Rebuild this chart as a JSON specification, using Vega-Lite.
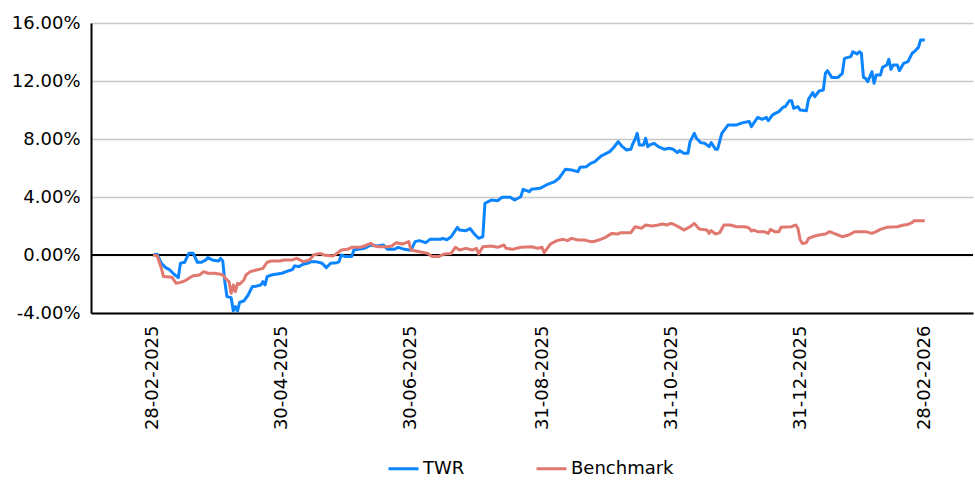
{
"$schema": "https://vega.github.io/schema/vega-lite/v6.json",
"width": 882, "height": 290,
"autosize": {"type": "none"},
"padding": {"left": 91, "top": 23, "right": 2, "bottom": 169},
"background": "white",
"config": {"view": {"stroke": null}, "font": "DejaVu Sans"},
"data": {"values": [
{"s":"TWR","d":"2025-02-28","v":0},
{"s":"TWR","d":"2025-03-02","v":0.0005},
{"s":"TWR","d":"2025-03-04","v":-0.0057},
{"s":"TWR","d":"2025-03-06","v":-0.0087},
{"s":"TWR","d":"2025-03-08","v":-0.0103},
{"s":"TWR","d":"2025-03-10","v":-0.0133},
{"s":"TWR","d":"2025-03-12","v":-0.0156},
{"s":"TWR","d":"2025-03-13","v":-0.0057},
{"s":"TWR","d":"2025-03-15","v":-0.0050},
{"s":"TWR","d":"2025-03-17","v":0.0012},
{"s":"TWR","d":"2025-03-19","v":0.0012},
{"s":"TWR","d":"2025-03-21","v":-0.0050},
{"s":"TWR","d":"2025-03-23","v":-0.0050},
{"s":"TWR","d":"2025-03-25","v":-0.0034},
{"s":"TWR","d":"2025-03-26","v":-0.0018},
{"s":"TWR","d":"2025-03-28","v":-0.0034},
{"s":"TWR","d":"2025-03-31","v":-0.0041},
{"s":"TWR","d":"2025-04-01","v":-0.0023},
{"s":"TWR","d":"2025-04-02","v":-0.0041},
{"s":"TWR","d":"2025-04-03","v":-0.0184},
{"s":"TWR","d":"2025-04-04","v":-0.0287},
{"s":"TWR","d":"2025-04-06","v":-0.0294},
{"s":"TWR","d":"2025-04-07","v":-0.0386},
{"s":"TWR","d":"2025-04-08","v":-0.0356},
{"s":"TWR","d":"2025-04-09","v":-0.0386},
{"s":"TWR","d":"2025-04-10","v":-0.0326},
{"s":"TWR","d":"2025-04-12","v":-0.0317},
{"s":"TWR","d":"2025-04-14","v":-0.0276},
{"s":"TWR","d":"2025-04-16","v":-0.0218},
{"s":"TWR","d":"2025-04-17","v":-0.0218},
{"s":"TWR","d":"2025-04-20","v":-0.0207},
{"s":"TWR","d":"2025-04-21","v":-0.0184},
{"s":"TWR","d":"2025-04-22","v":-0.0207},
{"s":"TWR","d":"2025-04-23","v":-0.0149},
{"s":"TWR","d":"2025-04-25","v":-0.0138},
{"s":"TWR","d":"2025-04-27","v":-0.0133},
{"s":"TWR","d":"2025-04-30","v":-0.0126},
{"s":"TWR","d":"2025-05-02","v":-0.0115},
{"s":"TWR","d":"2025-05-05","v":-0.0100},
{"s":"TWR","d":"2025-05-06","v":-0.0075},
{"s":"TWR","d":"2025-05-08","v":-0.0080},
{"s":"TWR","d":"2025-05-10","v":-0.0064},
{"s":"TWR","d":"2025-05-12","v":-0.0057},
{"s":"TWR","d":"2025-05-14","v":-0.0046},
{"s":"TWR","d":"2025-05-16","v":-0.0046},
{"s":"TWR","d":"2025-05-19","v":-0.0057},
{"s":"TWR","d":"2025-05-21","v":-0.0087},
{"s":"TWR","d":"2025-05-23","v":-0.0057},
{"s":"TWR","d":"2025-05-26","v":-0.0053},
{"s":"TWR","d":"2025-05-27","v":-0.0046},
{"s":"TWR","d":"2025-05-28","v":0.0000},
{"s":"TWR","d":"2025-05-30","v":-0.0011},
{"s":"TWR","d":"2025-06-02","v":-0.0011},
{"s":"TWR","d":"2025-06-03","v":0.0034},
{"s":"TWR","d":"2025-06-05","v":0.0039},
{"s":"TWR","d":"2025-06-08","v":0.0046},
{"s":"TWR","d":"2025-06-11","v":0.0069},
{"s":"TWR","d":"2025-06-14","v":0.0062},
{"s":"TWR","d":"2025-06-17","v":0.0069},
{"s":"TWR","d":"2025-06-19","v":0.0039},
{"s":"TWR","d":"2025-06-22","v":0.0039},
{"s":"TWR","d":"2025-06-24","v":0.0053},
{"s":"TWR","d":"2025-06-27","v":0.0039},
{"s":"TWR","d":"2025-06-29","v":0.0034},
{"s":"TWR","d":"2025-06-30","v":0.0034},
{"s":"TWR","d":"2025-07-02","v":0.0092},
{"s":"TWR","d":"2025-07-04","v":0.0099},
{"s":"TWR","d":"2025-07-07","v":0.0085},
{"s":"TWR","d":"2025-07-09","v":0.0108},
{"s":"TWR","d":"2025-07-14","v":0.0108},
{"s":"TWR","d":"2025-07-15","v":0.0115},
{"s":"TWR","d":"2025-07-17","v":0.0105},
{"s":"TWR","d":"2025-07-19","v":0.0126},
{"s":"TWR","d":"2025-07-22","v":0.0191},
{"s":"TWR","d":"2025-07-23","v":0.0172},
{"s":"TWR","d":"2025-07-26","v":0.0168},
{"s":"TWR","d":"2025-07-28","v":0.0182},
{"s":"TWR","d":"2025-07-30","v":0.0145},
{"s":"TWR","d":"2025-08-01","v":0.0115},
{"s":"TWR","d":"2025-08-03","v":0.0126},
{"s":"TWR","d":"2025-08-04","v":0.0356},
{"s":"TWR","d":"2025-08-07","v":0.0379},
{"s":"TWR","d":"2025-08-10","v":0.0374},
{"s":"TWR","d":"2025-08-12","v":0.0398},
{"s":"TWR","d":"2025-08-16","v":0.0398},
{"s":"TWR","d":"2025-08-18","v":0.0379},
{"s":"TWR","d":"2025-08-21","v":0.0402},
{"s":"TWR","d":"2025-08-22","v":0.0453},
{"s":"TWR","d":"2025-08-25","v":0.0437},
{"s":"TWR","d":"2025-08-26","v":0.0453},
{"s":"TWR","d":"2025-08-30","v":0.0460},
{"s":"TWR","d":"2025-09-02","v":0.0483},
{"s":"TWR","d":"2025-09-06","v":0.0506},
{"s":"TWR","d":"2025-09-08","v":0.0529},
{"s":"TWR","d":"2025-09-11","v":0.0591},
{"s":"TWR","d":"2025-09-14","v":0.0586},
{"s":"TWR","d":"2025-09-17","v":0.0575},
{"s":"TWR","d":"2025-09-18","v":0.0605},
{"s":"TWR","d":"2025-09-21","v":0.0609},
{"s":"TWR","d":"2025-09-23","v":0.0632},
{"s":"TWR","d":"2025-09-25","v":0.0644},
{"s":"TWR","d":"2025-09-28","v":0.0683},
{"s":"TWR","d":"2025-09-29","v":0.0690},
{"s":"TWR","d":"2025-10-02","v":0.0713},
{"s":"TWR","d":"2025-10-04","v":0.0743},
{"s":"TWR","d":"2025-10-06","v":0.0782},
{"s":"TWR","d":"2025-10-08","v":0.0747},
{"s":"TWR","d":"2025-10-10","v":0.0724},
{"s":"TWR","d":"2025-10-12","v":0.0729},
{"s":"TWR","d":"2025-10-13","v":0.0770},
{"s":"TWR","d":"2025-10-14","v":0.0798},
{"s":"TWR","d":"2025-10-15","v":0.0839},
{"s":"TWR","d":"2025-10-16","v":0.0759},
{"s":"TWR","d":"2025-10-18","v":0.0759},
{"s":"TWR","d":"2025-10-19","v":0.0805},
{"s":"TWR","d":"2025-10-20","v":0.0747},
{"s":"TWR","d":"2025-10-21","v":0.0759},
{"s":"TWR","d":"2025-10-23","v":0.0770},
{"s":"TWR","d":"2025-10-25","v":0.0747},
{"s":"TWR","d":"2025-10-28","v":0.0729},
{"s":"TWR","d":"2025-10-30","v":0.0736},
{"s":"TWR","d":"2025-11-01","v":0.0729},
{"s":"TWR","d":"2025-11-03","v":0.0706},
{"s":"TWR","d":"2025-11-04","v":0.0720},
{"s":"TWR","d":"2025-11-06","v":0.0701},
{"s":"TWR","d":"2025-11-08","v":0.0701},
{"s":"TWR","d":"2025-11-09","v":0.0782},
{"s":"TWR","d":"2025-11-11","v":0.0839},
{"s":"TWR","d":"2025-11-12","v":0.0805},
{"s":"TWR","d":"2025-11-14","v":0.0775},
{"s":"TWR","d":"2025-11-16","v":0.0770},
{"s":"TWR","d":"2025-11-18","v":0.0747},
{"s":"TWR","d":"2025-11-19","v":0.0775},
{"s":"TWR","d":"2025-11-21","v":0.0729},
{"s":"TWR","d":"2025-11-22","v":0.0729},
{"s":"TWR","d":"2025-11-24","v":0.0839},
{"s":"TWR","d":"2025-11-27","v":0.0897},
{"s":"TWR","d":"2025-12-01","v":0.0897},
{"s":"TWR","d":"2025-12-04","v":0.0913},
{"s":"TWR","d":"2025-12-07","v":0.0920},
{"s":"TWR","d":"2025-12-08","v":0.0885},
{"s":"TWR","d":"2025-12-09","v":0.0908},
{"s":"TWR","d":"2025-12-11","v":0.0949},
{"s":"TWR","d":"2025-12-13","v":0.0936},
{"s":"TWR","d":"2025-12-15","v":0.0949},
{"s":"TWR","d":"2025-12-16","v":0.0926},
{"s":"TWR","d":"2025-12-18","v":0.0966},
{"s":"TWR","d":"2025-12-20","v":0.0982},
{"s":"TWR","d":"2025-12-21","v":0.0989},
{"s":"TWR","d":"2025-12-23","v":0.1019},
{"s":"TWR","d":"2025-12-24","v":0.1023},
{"s":"TWR","d":"2025-12-26","v":0.1064},
{"s":"TWR","d":"2025-12-27","v":0.1064},
{"s":"TWR","d":"2025-12-28","v":0.1011},
{"s":"TWR","d":"2025-12-30","v":0.1023},
{"s":"TWR","d":"2025-12-31","v":0.1000},
{"s":"TWR","d":"2026-01-03","v":0.0995},
{"s":"TWR","d":"2026-01-04","v":0.1074},
{"s":"TWR","d":"2026-01-06","v":0.1120},
{"s":"TWR","d":"2026-01-07","v":0.1092},
{"s":"TWR","d":"2026-01-09","v":0.1131},
{"s":"TWR","d":"2026-01-11","v":0.1138},
{"s":"TWR","d":"2026-01-12","v":0.1253},
{"s":"TWR","d":"2026-01-13","v":0.1271},
{"s":"TWR","d":"2026-01-15","v":0.1225},
{"s":"TWR","d":"2026-01-18","v":0.1225},
{"s":"TWR","d":"2026-01-20","v":0.1253},
{"s":"TWR","d":"2026-01-21","v":0.1356},
{"s":"TWR","d":"2026-01-24","v":0.1368},
{"s":"TWR","d":"2026-01-25","v":0.1402},
{"s":"TWR","d":"2026-01-27","v":0.1386},
{"s":"TWR","d":"2026-01-28","v":0.1402},
{"s":"TWR","d":"2026-01-29","v":0.1391},
{"s":"TWR","d":"2026-01-30","v":0.1225},
{"s":"TWR","d":"2026-01-31","v":0.1218},
{"s":"TWR","d":"2026-02-01","v":0.1195},
{"s":"TWR","d":"2026-02-03","v":0.1264},
{"s":"TWR","d":"2026-02-04","v":0.1184},
{"s":"TWR","d":"2026-02-05","v":0.1241},
{"s":"TWR","d":"2026-02-07","v":0.1241},
{"s":"TWR","d":"2026-02-08","v":0.1294},
{"s":"TWR","d":"2026-02-10","v":0.1310},
{"s":"TWR","d":"2026-02-11","v":0.1349},
{"s":"TWR","d":"2026-02-12","v":0.1280},
{"s":"TWR","d":"2026-02-13","v":0.1310},
{"s":"TWR","d":"2026-02-15","v":0.1310},
{"s":"TWR","d":"2026-02-16","v":0.1271},
{"s":"TWR","d":"2026-02-18","v":0.1322},
{"s":"TWR","d":"2026-02-20","v":0.1333},
{"s":"TWR","d":"2026-02-22","v":0.1391},
{"s":"TWR","d":"2026-02-23","v":0.1402},
{"s":"TWR","d":"2026-02-25","v":0.1432},
{"s":"TWR","d":"2026-02-26","v":0.1483},
{"s":"TWR","d":"2026-02-28","v":0.1483},
{"s":"Benchmark","d":"2025-02-28","v":0},
{"s":"Benchmark","d":"2025-03-02","v":-0.0005},
{"s":"Benchmark","d":"2025-03-04","v":-0.0092},
{"s":"Benchmark","d":"2025-03-05","v":-0.0149},
{"s":"Benchmark","d":"2025-03-09","v":-0.0154},
{"s":"Benchmark","d":"2025-03-11","v":-0.0195},
{"s":"Benchmark","d":"2025-03-13","v":-0.0189},
{"s":"Benchmark","d":"2025-03-15","v":-0.0179},
{"s":"Benchmark","d":"2025-03-17","v":-0.0161},
{"s":"Benchmark","d":"2025-03-19","v":-0.0143},
{"s":"Benchmark","d":"2025-03-22","v":-0.0138},
{"s":"Benchmark","d":"2025-03-24","v":-0.0115},
{"s":"Benchmark","d":"2025-03-26","v":-0.0126},
{"s":"Benchmark","d":"2025-03-29","v":-0.0126},
{"s":"Benchmark","d":"2025-04-01","v":-0.0133},
{"s":"Benchmark","d":"2025-04-02","v":-0.0138},
{"s":"Benchmark","d":"2025-04-04","v":-0.0172},
{"s":"Benchmark","d":"2025-04-05","v":-0.0184},
{"s":"Benchmark","d":"2025-04-06","v":-0.0264},
{"s":"Benchmark","d":"2025-04-07","v":-0.0207},
{"s":"Benchmark","d":"2025-04-08","v":-0.0253},
{"s":"Benchmark","d":"2025-04-09","v":-0.0195},
{"s":"Benchmark","d":"2025-04-10","v":-0.0202},
{"s":"Benchmark","d":"2025-04-12","v":-0.0172},
{"s":"Benchmark","d":"2025-04-13","v":-0.0138},
{"s":"Benchmark","d":"2025-04-15","v":-0.0115},
{"s":"Benchmark","d":"2025-04-18","v":-0.0103},
{"s":"Benchmark","d":"2025-04-21","v":-0.0092},
{"s":"Benchmark","d":"2025-04-23","v":-0.0050},
{"s":"Benchmark","d":"2025-04-25","v":-0.0041},
{"s":"Benchmark","d":"2025-04-29","v":-0.0041},
{"s":"Benchmark","d":"2025-05-01","v":-0.0034},
{"s":"Benchmark","d":"2025-05-05","v":-0.0034},
{"s":"Benchmark","d":"2025-05-07","v":-0.0023},
{"s":"Benchmark","d":"2025-05-08","v":-0.0030},
{"s":"Benchmark","d":"2025-05-10","v":-0.0046},
{"s":"Benchmark","d":"2025-05-13","v":-0.0034},
{"s":"Benchmark","d":"2025-05-15","v":0.0000},
{"s":"Benchmark","d":"2025-05-18","v":0.0011},
{"s":"Benchmark","d":"2025-05-20","v":0.0000},
{"s":"Benchmark","d":"2025-05-24","v":-0.0007},
{"s":"Benchmark","d":"2025-05-26","v":0.0011},
{"s":"Benchmark","d":"2025-05-28","v":0.0034},
{"s":"Benchmark","d":"2025-05-31","v":0.0039},
{"s":"Benchmark","d":"2025-06-02","v":0.0053},
{"s":"Benchmark","d":"2025-06-06","v":0.0053},
{"s":"Benchmark","d":"2025-06-08","v":0.0062},
{"s":"Benchmark","d":"2025-06-11","v":0.0080},
{"s":"Benchmark","d":"2025-06-13","v":0.0062},
{"s":"Benchmark","d":"2025-06-15","v":0.0057},
{"s":"Benchmark","d":"2025-06-19","v":0.0057},
{"s":"Benchmark","d":"2025-06-21","v":0.0062},
{"s":"Benchmark","d":"2025-06-23","v":0.0085},
{"s":"Benchmark","d":"2025-06-26","v":0.0076},
{"s":"Benchmark","d":"2025-06-29","v":0.0092},
{"s":"Benchmark","d":"2025-06-30","v":0.0034},
{"s":"Benchmark","d":"2025-07-04","v":0.0023},
{"s":"Benchmark","d":"2025-07-08","v":0.0011},
{"s":"Benchmark","d":"2025-07-10","v":-0.0011},
{"s":"Benchmark","d":"2025-07-13","v":-0.0011},
{"s":"Benchmark","d":"2025-07-16","v":0.0007},
{"s":"Benchmark","d":"2025-07-19","v":0.0011},
{"s":"Benchmark","d":"2025-07-21","v":0.0053},
{"s":"Benchmark","d":"2025-07-23","v":0.0034},
{"s":"Benchmark","d":"2025-07-26","v":0.0046},
{"s":"Benchmark","d":"2025-07-29","v":0.0034},
{"s":"Benchmark","d":"2025-07-31","v":0.0046},
{"s":"Benchmark","d":"2025-08-01","v":0.0007},
{"s":"Benchmark","d":"2025-08-03","v":0.0057},
{"s":"Benchmark","d":"2025-08-07","v":0.0062},
{"s":"Benchmark","d":"2025-08-10","v":0.0053},
{"s":"Benchmark","d":"2025-08-13","v":0.0069},
{"s":"Benchmark","d":"2025-08-14","v":0.0046},
{"s":"Benchmark","d":"2025-08-17","v":0.0039},
{"s":"Benchmark","d":"2025-08-21","v":0.0053},
{"s":"Benchmark","d":"2025-08-26","v":0.0057},
{"s":"Benchmark","d":"2025-08-29","v":0.0046},
{"s":"Benchmark","d":"2025-08-31","v":0.0053},
{"s":"Benchmark","d":"2025-09-01","v":0.0016},
{"s":"Benchmark","d":"2025-09-04","v":0.0076},
{"s":"Benchmark","d":"2025-09-07","v":0.0099},
{"s":"Benchmark","d":"2025-09-10","v":0.0108},
{"s":"Benchmark","d":"2025-09-12","v":0.0099},
{"s":"Benchmark","d":"2025-09-14","v":0.0115},
{"s":"Benchmark","d":"2025-09-17","v":0.0103},
{"s":"Benchmark","d":"2025-09-20","v":0.0103},
{"s":"Benchmark","d":"2025-09-23","v":0.0092},
{"s":"Benchmark","d":"2025-09-25","v":0.0095},
{"s":"Benchmark","d":"2025-09-28","v":0.0110},
{"s":"Benchmark","d":"2025-09-30","v":0.0122},
{"s":"Benchmark","d":"2025-10-03","v":0.0149},
{"s":"Benchmark","d":"2025-10-06","v":0.0145},
{"s":"Benchmark","d":"2025-10-07","v":0.0154},
{"s":"Benchmark","d":"2025-10-12","v":0.0154},
{"s":"Benchmark","d":"2025-10-14","v":0.0195},
{"s":"Benchmark","d":"2025-10-17","v":0.0184},
{"s":"Benchmark","d":"2025-10-19","v":0.0207},
{"s":"Benchmark","d":"2025-10-22","v":0.0200},
{"s":"Benchmark","d":"2025-10-25","v":0.0207},
{"s":"Benchmark","d":"2025-10-27","v":0.0214},
{"s":"Benchmark","d":"2025-10-29","v":0.0207},
{"s":"Benchmark","d":"2025-10-31","v":0.0218},
{"s":"Benchmark","d":"2025-11-01","v":0.0214},
{"s":"Benchmark","d":"2025-11-04","v":0.0191},
{"s":"Benchmark","d":"2025-11-06","v":0.0172},
{"s":"Benchmark","d":"2025-11-09","v":0.0195},
{"s":"Benchmark","d":"2025-11-11","v":0.0218},
{"s":"Benchmark","d":"2025-11-13","v":0.0184},
{"s":"Benchmark","d":"2025-11-14","v":0.0177},
{"s":"Benchmark","d":"2025-11-17","v":0.0172},
{"s":"Benchmark","d":"2025-11-18","v":0.0149},
{"s":"Benchmark","d":"2025-11-19","v":0.0168},
{"s":"Benchmark","d":"2025-11-21","v":0.0145},
{"s":"Benchmark","d":"2025-11-23","v":0.0154},
{"s":"Benchmark","d":"2025-11-25","v":0.0207},
{"s":"Benchmark","d":"2025-11-28","v":0.0207},
{"s":"Benchmark","d":"2025-12-01","v":0.0195},
{"s":"Benchmark","d":"2025-12-05","v":0.0195},
{"s":"Benchmark","d":"2025-12-07","v":0.0185},
{"s":"Benchmark","d":"2025-12-08","v":0.0165},
{"s":"Benchmark","d":"2025-12-09","v":0.0172},
{"s":"Benchmark","d":"2025-12-11","v":0.0161},
{"s":"Benchmark","d":"2025-12-14","v":0.0161},
{"s":"Benchmark","d":"2025-12-16","v":0.0149},
{"s":"Benchmark","d":"2025-12-17","v":0.0177},
{"s":"Benchmark","d":"2025-12-19","v":0.0161},
{"s":"Benchmark","d":"2025-12-21","v":0.0161},
{"s":"Benchmark","d":"2025-12-22","v":0.0191},
{"s":"Benchmark","d":"2025-12-27","v":0.0195},
{"s":"Benchmark","d":"2025-12-29","v":0.0207},
{"s":"Benchmark","d":"2025-12-30","v":0.0184},
{"s":"Benchmark","d":"2025-12-31","v":0.0108},
{"s":"Benchmark","d":"2026-01-01","v":0.0080},
{"s":"Benchmark","d":"2026-01-03","v":0.0085},
{"s":"Benchmark","d":"2026-01-04","v":0.0115},
{"s":"Benchmark","d":"2026-01-07","v":0.0131},
{"s":"Benchmark","d":"2026-01-09","v":0.0138},
{"s":"Benchmark","d":"2026-01-12","v":0.0145},
{"s":"Benchmark","d":"2026-01-14","v":0.0161},
{"s":"Benchmark","d":"2026-01-16","v":0.0149},
{"s":"Benchmark","d":"2026-01-18","v":0.0138},
{"s":"Benchmark","d":"2026-01-20","v":0.0126},
{"s":"Benchmark","d":"2026-01-23","v":0.0138},
{"s":"Benchmark","d":"2026-01-26","v":0.0161},
{"s":"Benchmark","d":"2026-01-31","v":0.0161},
{"s":"Benchmark","d":"2026-02-03","v":0.0149},
{"s":"Benchmark","d":"2026-02-05","v":0.0161},
{"s":"Benchmark","d":"2026-02-07","v":0.0177},
{"s":"Benchmark","d":"2026-02-10","v":0.0191},
{"s":"Benchmark","d":"2026-02-15","v":0.0195},
{"s":"Benchmark","d":"2026-02-18","v":0.0207},
{"s":"Benchmark","d":"2026-02-20","v":0.0211},
{"s":"Benchmark","d":"2026-02-22","v":0.0223},
{"s":"Benchmark","d":"2026-02-23","v":0.0237},
{"s":"Benchmark","d":"2026-02-27","v":0.0237},
{"s":"Benchmark","d":"2026-02-28","v":0.0237}
]},
"layer": [
{"data": {"values": [{}]},
 "mark": {"type": "rule", "color": "black", "strokeWidth": 2},
 "encoding": {"y": {"datum": 0, "type": "quantitative"}}},
{"mark": {"type": "line", "strokeWidth": 3, "strokeJoin": "round"},
 "encoding": {
  "x": {"field": "d", "type": "temporal",
   "scale": {"type": "utc", "domain": [{"year": 2025, "month": 1, "date": 29, "hours": 17, "utc": true}, {"year": 2026, "month": 3, "date": 22, "hours": 19, "utc": true}]},
   "axis": {"title": null,
    "values": [{"year": 2025, "month": 2, "date": 28, "utc": true}, {"year": 2025, "month": 4, "date": 30, "utc": true}, {"year": 2025, "month": 6, "date": 30, "utc": true}, {"year": 2025, "month": 8, "date": 31, "utc": true}, {"year": 2025, "month": 10, "date": 31, "utc": true}, {"year": 2025, "month": 12, "date": 31, "utc": true}, {"year": 2026, "month": 2, "date": 28, "utc": true}],
    "labelExpr": "utcFormat(datum.value, '%d-%m-%Y')",
    "labelAngle": -90, "labelFontSize": 18, "labelFont": "DejaVu Sans", "labelColor": "black",
    "labelOverlap": false, "labelFlush": false,
    "ticks": false, "tickSize": 0, "labelPadding": 12, "grid": false,
    "domainColor": "black", "domainWidth": 2}},
  "y": {"field": "v", "type": "quantitative",
   "scale": {"domain": [-0.04, 0.16], "nice": false, "zero": false},
   "axis": {"title": null, "values": [-0.04, 0, 0.04, 0.08, 0.12, 0.16],
    "labelExpr": "replace(format(datum.value, '.2%'), '\u2212', '-')",
    "labelFontSize": 18, "labelFont": "DejaVu Sans", "labelColor": "black",
    "ticks": false, "tickSize": 0, "labelPadding": 11,
    "grid": true, "gridColor": "#c8c8c8", "gridWidth": 1.5,
    "domainColor": "black", "domainWidth": 2}},
  "color": {"field": "s", "type": "nominal",
   "scale": {"domain": ["TWR", "Benchmark"], "range": ["#0A84FF", "#E07870"]},
   "legend": {"title": null, "orient": "none", "legendX": 296, "legendY": 429,
    "direction": "horizontal", "symbolType": "stroke", "symbolSize": 900, "symbolStrokeWidth": 3,
    "labelFontSize": 18, "labelFont": "DejaVu Sans", "labelColor": "black",
    "labelOffset": 3, "columnPadding": 65, "padding": 0}}
 }}
]
}
